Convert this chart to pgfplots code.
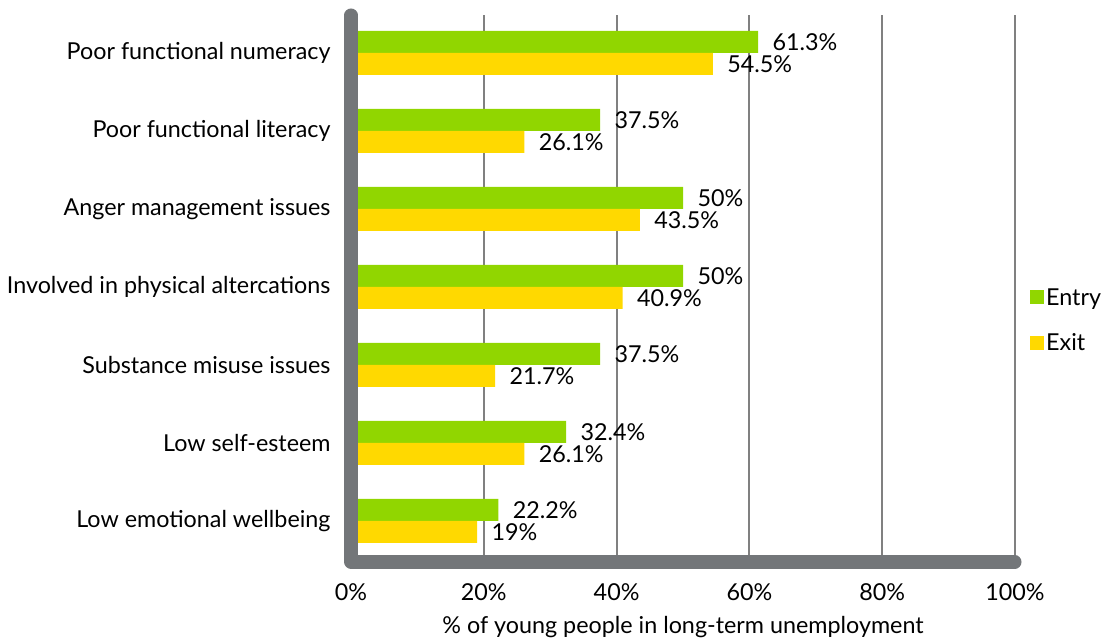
\documentclass[border=0pt]{standalone}
\usepackage{pgfplots}
\pgfplotsset{compat=1.18}
\usepackage{fontspec}
\setmainfont{Lato}
\definecolor{entryc}{RGB}{145,214,0}
\definecolor{exitc}{RGB}{255,217,0}
\definecolor{spinec}{RGB}{115,118,121}
\definecolor{gridc}{RGB}{128,128,128}
\begin{document}
\begin{tikzpicture}[font=\fontsize{23.4}{27}\selectfont]
\path[use as bounding box] (0,0) rectangle (1109bp,643bp);
\begin{axis}[
  at={(351bp,81bp)}, anchor=south west,
  width=664bp, height=547bp, scale only axis,
  xmin=0, xmax=100, ymin=-0.526, ymax=6.487,
  xbar, bar width=22bp,
  axis x line=bottom, axis y line=left,
  axis line style={draw=none, -},
  major tick length=0pt,
  xmajorgrids, grid style={gridc, line width=2bp},
  xtick={0,20,...,100},
  xticklabel={\pgfmathprintnumber{\tick}\%},
  xticklabel style={yshift=-18bp},
  ytick={0,...,6},
  yticklabels={Low emotional wellbeing, Low self-esteem, Substance misuse issues, Involved in physical altercations, Anger management issues, Poor functional literacy, Poor functional numeracy},
  yticklabel style={anchor=east, xshift=-17bp},
  xlabel={\% of young people in long-term unemployment},
  xlabel style={yshift=-9bp},
  /pgf/number format/assume math mode=true,
  point meta=x,
  nodes near coords={\pgfmathprintnumber{\pgfplotspointmeta}\%},
  nodes near coords style={anchor=west, xshift=11bp, text=black},
  clip=false,
  legend style={draw=none, fill=none, at={(1.0226,0.442)}, anchor=west, row sep=23bp, font=\fontsize{23.4}{27}\selectfont, inner sep=0pt},
  legend cell align=left,
  legend image code/.code={\fill[#1] (0bp,-7bp) rectangle (14bp,7bp);},
]
\addplot[draw=none, fill=entryc, bar shift=11bp] coordinates {(22.2,0) (32.4,1) (37.5,2) (50,3) (50,4) (37.5,5) (61.3,6)};
\addplot[draw=none, fill=exitc, bar shift=-11bp] coordinates {(19,0) (26.1,1) (21.7,2) (40.9,3) (43.5,4) (26.1,5) (54.5,6)};
\legend{Entry, Exit}
\draw[spinec, line width=13bp, line cap=round, line join=round] (rel axis cs:0,1) -- (rel axis cs:0,0) -- (rel axis cs:1,0);
\end{axis}
\end{tikzpicture}
\end{document}
